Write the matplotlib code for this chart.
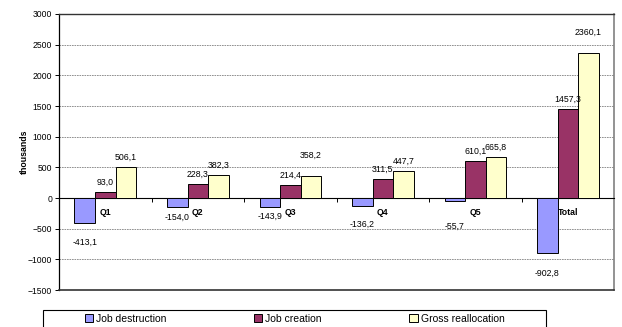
import matplotlib
matplotlib.use("Agg")
import matplotlib.pyplot as plt
from matplotlib.patches import Rectangle
import numpy as np

plt.rcParams['font.family'] = ['Liberation Sans', 'DejaVu Sans']

categories = ["Q1", "Q2", "Q3", "Q4", "Q5", "Total"]
destruction = [-413.1, -154.0, -143.9, -136.2, -55.7, -902.8]
creation = [93.0, 228.3, 214.4, 311.5, 610.1, 1457.3]
reallocation = [506.1, 382.3, 358.2, 447.7, 665.8, 2360.1]
series_names = ["Job destruction", "Job creation", "Gross reallocation"]

colors = ["#9999FF", "#993366", "#FFFFCC"]
# extra vertical nudge (points) for some value labels
label_nudge = {
    0: [7, 0, 0, 6, 11, 7],
    1: [0, 0, 0, 0, 0, 0],
    2: [0, 0, 8, 0, 0, 8],
}

fig = plt.figure(figsize=(6.22, 3.27), dpi=100)
ax = fig.add_axes([0.0949, 0.1131, 0.8924, 0.8441])

x = np.arange(len(categories))
w = 0.222
all_series = [destruction, creation, reallocation]
for k, vals in enumerate(all_series):
    pos = x + (k - 1) * w
    ax.bar(pos, vals, w, color=colors[k], edgecolor="black", linewidth=0.7,
           label=series_names[k], zorder=3)
    for j, v in enumerate(vals):
        txt = ("%.1f" % v).replace(".", ",")
        off = 7 + label_nudge[k][j]
        ax.annotate(txt, (pos[j], v), xytext=(0, off if v >= 0 else -off),
                    textcoords="offset points", ha="center",
                    va="center", fontsize=6.3, zorder=4)

ax.set_xlim(-0.5, len(categories) - 0.5)
ax.set_ylim(-1500, 3000)
ax.set_yticks(np.arange(-1500, 3001, 500))
ax.tick_params(axis="y", labelsize=6.2, length=3, width=0.7, pad=2)
ax.yaxis.grid(True, color="#808080", linestyle=(0, (2, 1)), linewidth=0.6)
ax.set_axisbelow(True)

# category axis crosses at zero
ax.spines["bottom"].set_position(("data", 0))
ax.spines["bottom"].set_linewidth(0.8)
ax.set_xticks(x)
ax.set_xticklabels(categories, fontsize=6.3, fontweight="bold")
ax.set_xticks(x[:-1] + 0.5, minor=True)
ax.tick_params(axis="x", which="major", length=0, pad=7)
ax.tick_params(axis="x", which="minor", length=3, width=0.7, direction="out")

ax.spines["left"].set_linewidth(0.9)
ax.spines["top"].set_color("#333333")
ax.spines["top"].set_linewidth(1.0)
ax.spines["right"].set_color("#808080")
ax.spines["right"].set_linewidth(1.2)
ax.plot([0, 1], [0, 0], transform=ax.transAxes, color="#333333",
        linewidth=1.2, clip_on=False, zorder=5)

ax.set_ylabel("thousands", fontsize=6.3, fontweight="bold", labelpad=-0.5)

# legend box along the bottom edge
fig.patches.append(Rectangle((43 / 622, -0.05), 503 / 622, 0.05 + 17 / 327,
                             transform=fig.transFigure, fill=False,
                             edgecolor="black", linewidth=0.8))
leg = fig.legend(loc="center", bbox_to_anchor=(0.4735, 0.025),
                 ncol=3, fontsize=7.5, frameon=False,
                 handlelength=0.8, handleheight=0.8, handletextpad=0.3,
                 columnspacing=8.4, borderpad=0)
for p in leg.get_patches():
    p.set_linewidth(0.7)

fig.savefig("out.png", dpi=100)
